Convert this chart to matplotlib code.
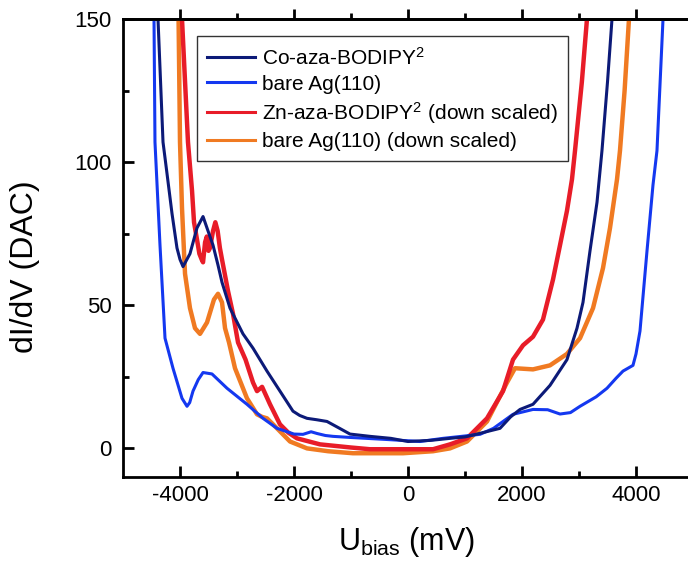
import matplotlib
matplotlib.use("Agg")
import matplotlib.pyplot as plt
from matplotlib.ticker import FixedLocator

plt.rcParams['font.family'] = ['Liberation Sans', 'DejaVu Sans']
plt.rcParams['mathtext.fontset'] = 'custom'
plt.rcParams['mathtext.rm'] = 'Liberation Sans'
plt.rcParams['mathtext.it'] = 'Liberation Sans:italic'
plt.rcParams['axes.unicode_minus'] = False

# dI/dV spectra, bias in mV
co_x = [-4440, -4386, -4298, -4228, -4140, -4053, -4000, -3947, -3825, -3702, -3596, -3509,
        -3421, -3333, -3263, -3123, -2895, -2719, -2474, -2246, -2018, -1900, -1772, -1600,
        -1421, -1200, -1018, -667, -300, 0, 400, 737, 1000, 1210, 1614, 1800, 1965, 2193,
        2491, 2789, 2965, 3070, 3193, 3316, 3403, 3500, 3579, 3620]
co_y = [165, 150, 107, 96, 82, 70, 66, 63.5, 68, 77, 81, 76,
        71, 64, 58, 49, 40, 35, 27, 20, 13, 11.5, 10.5, 10,
        9.4, 7, 5, 4.2, 3.5, 2.4, 2.8, 3.5, 4, 5, 7, 11, 13.6, 15.4,
        22, 31, 42, 51, 69, 86, 104, 128, 150, 165]

ag_x = [-4480, -4456, -4439, -4351, -4263, -4123, -3965, -3877, -3830, -3772, -3680, -3596,
        -3439, -3175, -2825, -2544, -2298, -2000, -1842, -1700, -1596, -1450, -1316, -1000,
        -368, 210, 614, 1263, 1500, 1842, 2193, 2450, 2667, 2850, 3018, 3300, 3491, 3650,
        3772, 3947, 4000, 4070, 4193, 4298, 4368, 4474, 4500]
ag_y = [165, 150, 107, 71, 38.5, 28, 17.5, 14.7, 16, 20, 24, 26.5,
        26, 21, 15.4, 10.5, 7, 5, 4.9, 5.8, 5.2, 4.5, 4.2, 3.8,
        3.1, 2.4, 3.5, 4.9, 7, 11.9, 13.6, 13.5, 12, 12.5, 14.7, 18, 21, 24.5,
        27, 29, 33, 41, 69, 92, 104, 150, 165]

zn_x = [-4000, -3965, -3860, -3789, -3754, -3702, -3660, -3620, -3596, -3560, -3530, -3500,
        -3474, -3420, -3380, -3340, -3300, -3263, -3158, -3070, -2982, -2850, -2719, -2649,
        -2560, -2480, -2421, -2246, -2100, -1947, -1544, -1000, -667, 210, 439, 737, 1035,
        1386, 1667, 1842, 2018, 2193, 2368, 2544, 2667, 2789, 2877, 2930, 3050, 3140, 3180]
zn_y = [165, 150, 107, 90, 79, 73, 68, 66, 65, 72, 74, 69,
        70, 76, 79, 76, 70, 66, 55, 47, 37, 31, 23, 20,
        21.5, 18, 15.4, 8.4, 5.5, 3.5, 1.4, 0.3, -0.3, -0.3, -0.3, 1.4, 3.5,
        10.5, 20, 31, 36, 39, 45, 59, 71, 83, 94, 104, 128, 150, 165]

ag_ds_x = [-4040, -4025, -4000, -3965, -3912, -3825, -3737, -3649, -3526, -3404, -3333, -3263,
           -3210, -3140, -3035, -2825, -2649, -2560, -2474, -2298, -2070, -1772, -1400, -965,
           -88, 439, 737, 1035, 1386, 1737, 1877, 2193, 2491, 2789, 3018, 3246, 3421, 3544,
           3667, 3719, 3800, 3877, 3920]
ag_ds_y = [165, 150, 107, 84, 61, 49, 42, 40, 44, 52, 54, 51,
           42, 37, 28, 17.5, 11.9, 11, 10.5, 7, 2.4, 0, -1, -1.7,
           -1.7, -1, 0, 2.4, 9.4, 23, 28, 27.6, 29, 33, 38.5, 49, 63, 77,
           94, 104, 125, 150, 165]

labels = ['Co-aza-BODIPY$^2$', 'bare Ag(110)', 'Zn-aza-BODIPY$^2$ (down scaled)',
          'bare Ag(110) (down scaled)']
colors = ['#0c1a78', '#1438f0', '#e81c28', '#f07a22']

fig = plt.figure(figsize=(6.88, 5.66), dpi=100)
ax = fig.add_axes([123 / 688, 1 - 477 / 566, 570 / 688, 458 / 566])

l4, = ax.plot(ag_ds_x, ag_ds_y, color=colors[3], lw=3.2)
l3, = ax.plot(zn_x, zn_y, color=colors[2], lw=3.2)
l2, = ax.plot(ag_x, ag_y, color=colors[1], lw=2.2)
l1, = ax.plot(co_x, co_y, color=colors[0], lw=2.2)

ax.set_xlim(-5000, 5000)
ax.set_ylim(-10, 150)

ax.set_xticks([-4000, -2000, 0, 2000, 4000])
ax.xaxis.set_minor_locator(FixedLocator([-3000, -1000, 1000, 3000]))
ax.set_yticks([0, 50, 100, 150])
ax.yaxis.set_minor_locator(FixedLocator([25, 75, 125]))
ax.tick_params(which='both', direction='in', width=2, labelsize=16)
ax.tick_params(which='major', length=8)
ax.tick_params(which='minor', length=4)
ax.tick_params(axis='x', pad=6)
ax.tick_params(axis='y', pad=8)

for side in ['left', 'bottom', 'top']:
    ax.spines[side].set_linewidth(2)
ax.spines['right'].set_visible(False)

# top axis: ticks pointing outward, no labels
top = ax.secondary_xaxis('top')
top.set_xticks([-4000, -2000, 0, 2000, 4000])
top.xaxis.set_minor_locator(FixedLocator([-3000, -1000, 1000, 3000]))
top.tick_params(which='both', direction='out', width=2, labeltop=False)
top.tick_params(which='major', length=7)
top.tick_params(which='minor', length=4)
top.spines['top'].set_linewidth(2)

ax.set_ylabel('dI/dV (DAC)', fontsize=23)
ax.yaxis.set_label_coords(-0.145, 0.46)
ax.set_xlabel('U$_{\\mathrm{bias}}$ (mV)', fontsize=22)
ax.xaxis.set_label_coords(0.497, -0.105)

leg = ax.legend([l1, l2, l3, l4], labels, loc='upper left',
                bbox_to_anchor=(197 / 688, 1 - 36 / 566), bbox_transform=fig.transFigure,
                fontsize=15, frameon=True, fancybox=False, framealpha=1,
                edgecolor='#333333', handlelength=2.3, handletextpad=0.3,
                labelspacing=0.3, borderpad=0.5, borderaxespad=0)
leg.get_frame().set_linewidth(1)
for h in leg.get_lines():
    h.set_linewidth(2.2)

fig.savefig('out.png', dpi=100)
